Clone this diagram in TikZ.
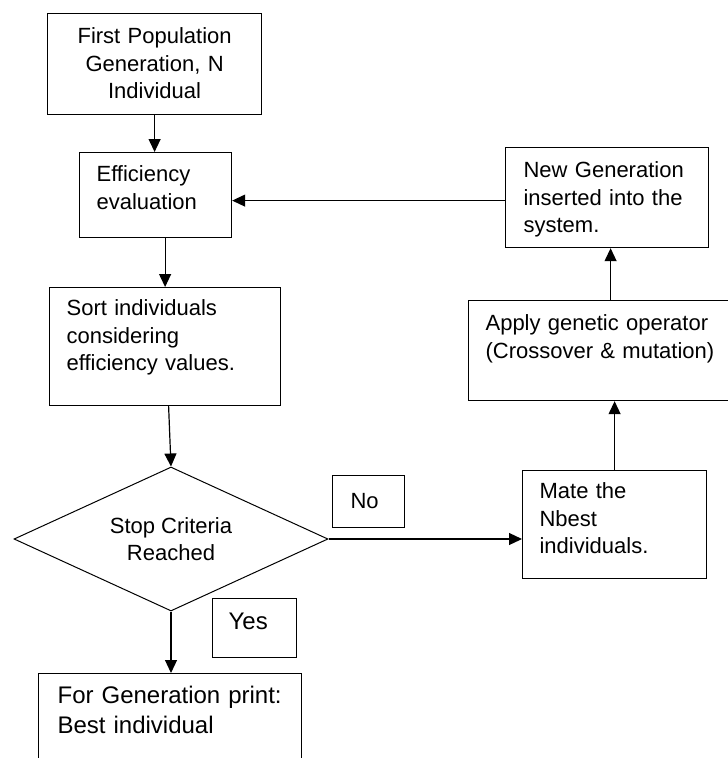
\documentclass[tikz,border=0pt]{standalone}
\usepackage{fontspec}
\setmainfont{Liberation Sans}
\usetikzlibrary{shapes.geometric,arrows.meta}

\tikzset{
  flowbox/.style={draw, anchor=north west, inner ysep=0pt, inner xsep=17pt, align=left, font=\fontsize{22}{27.5}\selectfont},
  bigtext/.style={font=\fontsize{24}{30}\selectfont},
  flowarrow/.style={-{Triangle[length=13pt,width=12pt]}}
}

\begin{document}
\begin{tikzpicture}[x=1pt, y=-1pt, line width=1.2pt]
\useasboundingbox (0,0) rectangle (728,758);
\node [flowbox, align=center, text width=180pt, text height=30pt, text depth=71pt] (first) at (47,13) {First Population\\Generation, N\\Individual};
\node [flowbox, text width=118pt, text height=29pt, text depth=56pt] (eval) at (79,152) {Efficiency\\evaluation};
\node [flowbox, text width=197pt, text height=28pt, text depth=90pt] (sort) at (49,287) {Sort individuals\\considering\\efficiency values.};
\node [draw, diamond, aspect=2.18, minimum width=314pt, minimum height=144pt, inner sep=0pt, line width=1pt, align=center, font=\fontsize{22}{27.5}\selectfont] (stop) at (171,539) {Stop Criteria\\Reached};
\node [flowbox, bigtext, inner xsep=19pt, text width=225pt, text height=30pt, text depth=87pt] (final) at (38,673) {For Generation print:\\Best individual};
\node [flowbox, inner xsep=18pt, text width=36pt, text height=33pt, text depth=19pt] (no) at (332,475) {No};
\node [flowbox, bigtext, inner xsep=16pt, text width=52pt, text height=31pt, text depth=28pt] (yes) at (212,598) {Yes};
\node [flowbox, text width=150pt, text height=28pt, text depth=80pt] (mate) at (522,470) {Mate the\\Nbest\\individuals.};
\node [flowbox, text width=238pt, text height=30pt, text depth=70pt] (apply) at (468,300) {Apply genetic operator\\(Crossover \& mutation)};
\node [flowbox, inner xsep=18pt, text width=167pt, text height=30pt, text depth=70pt] (newgen) at (505,147) {New Generation\\inserted into the\\system.};

\draw [flowarrow] (first.south) -- (first.south |- eval.north);
\draw [flowarrow] (eval.south -| sort.north) -- (sort.north);
\draw [flowarrow] ([xshift=3.5pt]sort.south) -- (stop.north);
\draw [flowarrow] (stop.south) -- (stop.south |- final.north);
\draw [flowarrow] (stop.east) -- (stop.east -| mate.west);
\draw [flowarrow] (mate.north) -- (mate.north |- apply.south);
\draw [flowarrow] ([xshift=3.5pt]newgen.south |- apply.north) -- ([xshift=3.5pt]newgen.south);
\draw [flowarrow] ([yshift=-3pt]newgen.west) -- ([yshift=-3pt]newgen.west -| eval.east);
\end{tikzpicture}
\end{document}
